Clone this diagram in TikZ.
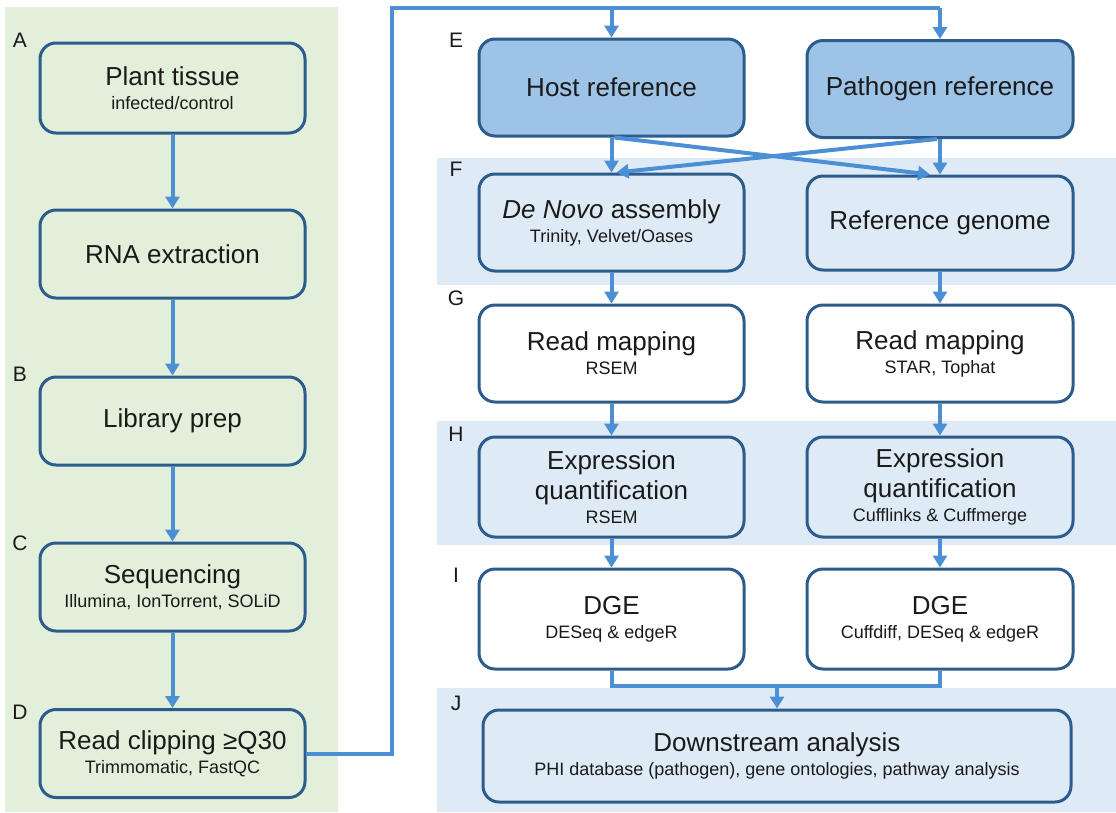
\documentclass[tikz,border=0pt]{standalone}
\usepackage{fontspec}
\setmainfont{Liberation Sans}
\usetikzlibrary{arrows.meta}
\definecolor{greenbg}{HTML}{E2EFDA}
\definecolor{bandbg}{HTML}{DEEBF7}
\definecolor{hostfill}{HTML}{9DC3E6}
\definecolor{bordc}{HTML}{2B5C8C}
\definecolor{arrc}{HTML}{4D8FD4}
\definecolor{txtc}{HTML}{1A1A1A}
\newcommand{\subtxt}[1]{{\fontsize{18}{24}\selectfont #1}}
\begin{document}
\begin{tikzpicture}[x=1pt,y=-1pt,
  box/.style={draw=bordc, line width=3pt, rounded corners=16pt, align=center,
    text=txtc, font=\fontsize{26}{24}\selectfont, inner sep=0pt},
  lbox/.style={box, fill=greenbg, minimum width=265pt, minimum height=88pt},
  rbox/.style={box, fill=white, minimum width=265pt, minimum height=97pt},
  arr/.style={draw=arrc, line width=4pt, -{Triangle[width=14pt,length=12pt]}},
  conn/.style={draw=arrc, line width=4pt},
  lab/.style={font=\fontsize{21}{21}\selectfont, text=txtc, inner sep=0pt}]
\useasboundingbox (0,0) rectangle (1116,812);
\fill[white] (0,0) rectangle (1116,812);
% backgrounds
\fill[greenbg] (5,7) rectangle (338,812);
\fill[bandbg] (437,158) rectangle (1116,285);
\fill[bandbg] (437,421) rectangle (1116,545);
\fill[bandbg] (437,688) rectangle (1116,812);
% left column
\node[lbox, minimum height=90pt] (plant) at (172.5,88) {Plant tissue\\\subtxt{infected/control}};
\node[lbox] (rna) at (172.5,254) {RNA extraction};
\node[lbox] (lib) at (172.5,421) {Library prep};
\node[lbox] (seq) at (172.5,587) {Sequencing\\\subtxt{Illumina, IonTorrent, SOLiD}};
\node[lbox] (clip) at (172.5,753.5) {Read clipping ≥Q30\\\subtxt{Trimmomatic, FastQC}};
% right columns
\node[rbox, fill=hostfill] (host) at (611.5,87.5) {Host reference};
\node[rbox, fill=hostfill, minimum width=266pt] (path) at (940,89) {Pathogen reference};
\node[rbox, fill=bandbg] (denovo) at (611.5,222.5) {\textit{De Novo} assembly\\\subtxt{Trinity, Velvet/Oases}};
\node[rbox, fill=bandbg, minimum width=266pt, minimum height=94pt] (refgen) at (940,223) {Reference genome};
\node[rbox] (rmL) at (611.5,353.5) {Read mapping\\\subtxt{RSEM}};
\node[rbox, minimum width=266pt] (rmR) at (940,353.5) {Read mapping\\\subtxt{STAR, Tophat}};
\node[rbox, fill=bandbg, minimum height=100pt] (eqL) at (611.5,487) {Expression\\[5pt]quantification\\\subtxt{RSEM}};
\node[rbox, fill=bandbg, minimum width=266pt, minimum height=100pt] (eqR) at (940,487) {Expression\\[5pt]quantification\\\subtxt{Cufflinks \& Cuffmerge}};
\node[rbox, minimum height=100pt] (dgeL) at (611.5,619) {DGE\\\subtxt{DESeq \& edgeR}};
\node[rbox, minimum width=266pt, minimum height=100pt] (dgeR) at (940,619) {DGE\\\subtxt{Cuffdiff, DESeq \& edgeR}};
\node[rbox, fill=bandbg, minimum width=588pt, minimum height=92pt] (down) at (777,756) {Downstream analysis\\\subtxt{PHI database (pathogen), gene ontologies, pathway analysis}};
% labels
\node[lab] (la) at (20,40) {A};
\node[lab] (lb) at (20,374) {B};
\node[lab] (lc) at (20,543) {C};
\node[lab] (ld) at (20,712) {D};
\node[lab] (le) at (456,40) {E};
\node[lab] (lf) at (456,169) {F};
\node[lab] (lg) at (456,298) {G};
\node[lab] (lh) at (456,434) {H};
\node[lab] (li) at (456,575) {I};
\node[lab] (lj) at (456,703) {J};
% left arrows
\draw[arr] (plant.south) -- (rna.north);
\draw[arr] (rna.south) -- (lib.north);
\draw[arr] (lib.south) -- (seq.north);
\draw[arr] (seq.south) -- (clip.north);
% top connector
\coordinate (tl) at (392,8);
\coordinate (tr) at (940,8);
\draw[conn] (clip.east) -| (tl) -- (tr);
\draw[arr] (host.north |- tl) -- (host.north);
\draw[arr] (tr) -- (path.north);
% E -> F
\draw[arr] (host.south) -- (denovo.north);
\draw[arr] (path.south) -- (refgen.north);
\draw[arr] ([xshift=3pt]host.south) -- ([xshift=-10pt]refgen.north);
\draw[arr] ([xshift=-3pt]path.south) -- ([xshift=5pt]denovo.north);
% F -> G -> H -> I
\draw[arr] (denovo.south) -- (rmL.north);
\draw[arr] (refgen.south) -- (rmR.north);
\draw[arr] (rmL.south) -- (eqL.north);
\draw[arr] (rmR.south) -- (eqR.north);
\draw[arr] (eqL.south) -- (dgeL.north);
\draw[arr] (eqR.south) -- (dgeR.north);
% I -> J
\coordinate (j) at (777,686);
\draw[conn] (dgeL.south) |- (j) -| (dgeR.south);
\draw[arr] (j) -- (down.north);
\end{tikzpicture}
\end{document}
